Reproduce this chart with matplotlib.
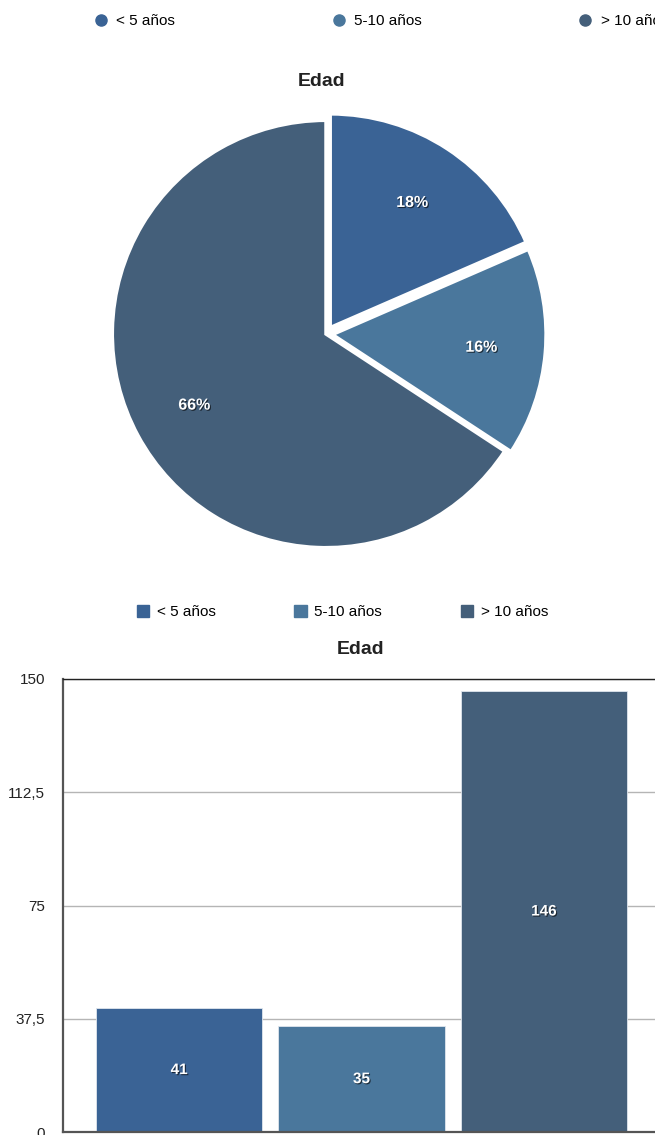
import matplotlib
matplotlib.use("Agg")
import matplotlib.pyplot as plt
import matplotlib.patheffects as pe
from matplotlib.lines import Line2D
from matplotlib.patches import Patch

plt.rcParams["font.family"] = ["Liberation Sans", "DejaVu Sans"]

# datos
categorias = ["< 5 años", "5-10 años", "> 10 años"]
valores = [41, 35, 146]
colores = ["#3a6395", "#4a779c", "#445f7a"]
separacion = [0.036, 0.03, 0.0]
yticks = [0, 37.5, 75, 112.5, 150]
ytick_labels = ["0", "37,5", "75", "112,5", "150"]

W, H = 655, 1135
fig = plt.figure(figsize=(W / 100, H / 100), dpi=100)

sombra = [pe.withSimplePatchShadow(offset=(0.8, -0.8), shadow_rgbFace="black", alpha=0.6)]

# -----------------------------
# Tarta
# -----------------------------
cx, cy, lado = 326, 334, 500
ax1 = fig.add_axes([(cx - lado / 2) / W, (H - cy - lado / 2) / H, lado / W, lado / H])
wedges, _, autotexts = ax1.pie(
    valores, colors=colores, explode=separacion, startangle=90, counterclock=False,
    autopct=lambda p: f"{p:.0f}%", pctdistance=0.7,
    wedgeprops=dict(edgecolor="white", linewidth=2.5),
    textprops=dict(color="white", fontsize=11.5, fontweight="bold"),
)
for t in autotexts:
    t.set_path_effects(sombra)
ax1.set_xlim(-1.17, 1.17)
ax1.set_ylim(-1.17, 1.17)
ax1.set_aspect("equal")
ax1.axis("off")

fig.text(322 / W, 1 - 81 / H, "Edad", ha="center", va="center",
         fontsize=14, fontweight="bold", color="#222222")

handles_pie = [Line2D([], [], marker="o", linestyle="", markersize=8,
                      markerfacecolor=c, markeredgecolor=c) for c in colores]
fig.legend(handles_pie, categorias, loc="center left", bbox_to_anchor=(93.5 / W, 1 - 21 / H),
           ncol=3, frameon=False, fontsize=11, handlelength=1.0, handletextpad=0.5,
           columnspacing=10.2, borderpad=0, borderaxespad=0)

# -----------------------------
# Barras
# -----------------------------
x0, x1, y0, y1 = 63, 660, 679, 1132
ax2 = fig.add_axes([x0 / W, (H - y1) / H, (x1 - x0) / W, (y1 - y0) / H])
pos = list(range(len(valores)))
barras = ax2.bar(pos, valores, width=0.912, color=colores,
                 edgecolor="#dfe6ee", linewidth=0.6, zorder=2)
for b, v in zip(barras, valores):
    ax2.text(b.get_x() + b.get_width() / 2, v / 2, str(v), ha="center", va="center",
             color="white", fontsize=11, fontweight="bold", path_effects=sombra, zorder=3)

ax2.set_xlim(-0.637, 2.637)
ax2.set_ylim(0, 150)
ax2.set_yticks(yticks)
ax2.set_yticklabels(ytick_labels)
ax2.set_xticks([])
ax2.tick_params(axis="y", length=0, pad=13, labelsize=11, labelcolor="#222222")
ax2.yaxis.grid(True, color="#b5b5b5", linewidth=1.0, zorder=1)
ax2.set_axisbelow(True)
for lado_eje in ["left", "bottom"]:
    ax2.spines[lado_eje].set_color("#555555")
    ax2.spines[lado_eje].set_linewidth(1.6)
ax2.spines["top"].set_color("#222222")
ax2.spines["top"].set_linewidth(1.0)
ax2.spines["right"].set_visible(False)

fig.text(361 / W, 1 - 649 / H, "Edad", ha="center", va="center",
         fontsize=14, fontweight="bold", color="#222222")

handles_bar = [Patch(facecolor=c, edgecolor=c) for c in colores]
fig.legend(handles_bar, categorias, loc="center left", bbox_to_anchor=(137 / W, 1 - 612 / H),
           ncol=3, frameon=False, fontsize=11, handlelength=0.8, handleheight=0.8,
           handletextpad=0.5, columnspacing=5.15, borderpad=0, borderaxespad=0)

fig.savefig("out.png", dpi=100, facecolor="white")
